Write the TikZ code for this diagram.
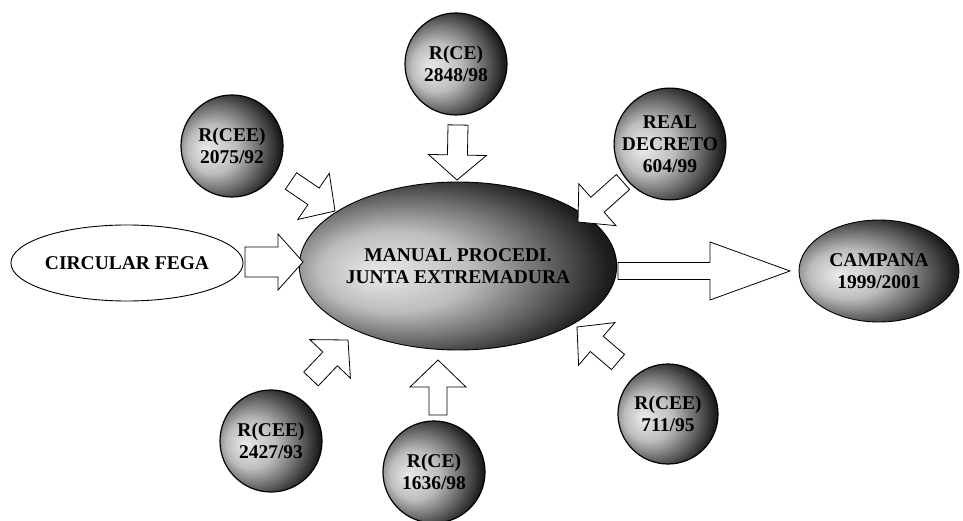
\documentclass[tikz,border=0pt]{standalone}
\usepackage{fontspec}
\setmainfont{Liberation Serif}
\usepackage{tikz}
\usetikzlibrary{calc,positioning,shapes.geometric}

\pgfdeclareradialshading{Globe}{\pgfpoint{-13bp}{-2bp}}{%
	color(0bp)=(black!8); color(12bp)=(black!26); color(21bp)=(black!58);
	color(29bp)=(black!88); color(35bp)=(black); color(50bp)=(black)}

\newcommand{\blockarrow}[5]{%
	\coordinate (BaTail) at #1;
	\coordinate (BaTip)  at #2;
	\coordinate (BaBase) at ($(BaTip)!#5!(BaTail)$);
	\draw[arrowbody] ($(BaTail)!#3!90:(BaTip)$) -- ($(BaBase)!#3!-90:(BaTail)$) -- ($(BaBase)!#4!-90:(BaTail)$)
		-- (BaTip) -- ($(BaBase)!#4!90:(BaTail)$) -- ($(BaBase)!#3!90:(BaTail)$) -- ($(BaTail)!#3!-90:(BaTip)$) -- cycle;}

\begin{document}
\begin{tikzpicture}[x=1pt,y=-1pt,font=\fontsize{19.5}{22}\selectfont\bfseries,
		globe/.style={circle,draw,line width=1.2pt,shading=Globe,minimum size=102pt,inner sep=0pt,align=center},
		oval/.style={ellipse,draw,line width=.9pt,inner sep=0pt,align=center},
		arrowbody/.style={draw,fill=white,line width=.8pt,line join=miter}]
	\useasboundingbox (0,0) rectangle (963,521);

	\node[oval,shading=Globe,minimum width=260pt,minimum height=168pt] (Manual)   at (458,266) {MANUAL PROCEDI.\\JUNTA EXTREMADURA};
	\node[oval,fill=white,minimum width=206pt,minimum height=76pt]     (Circular) at (127,263) {CIRCULAR FEGA};
	\node[oval,shading=Globe,minimum width=160pt,minimum height=102pt] (Campana)  at (879,271) {CAMPANA\\1999/2001};

	\node[globe] (R2848) at (456,64)  {R(CE)\\2848/98};
	\node[globe] (R2075) at (232,146) {R(CEE)\\2075/92};
	\node[globe] (RD604) at (670,144) {REAL\\DECRETO\\604/99};
	\node[globe] (R2427) at (271,441) {R(CEE)\\2427/93};
	\node[globe] (R1636) at (434,472) {R(CE)\\1636/98};
	\node[globe,minimum size=100pt] (R711) at (668,414) {R(CEE)\\711/95};

	\blockarrow{(458,125)}{(457,180)}{10pt}{29pt}{25pt}
	\blockarrow{(291,181)}{(335,211)}{10pt}{28pt}{26pt}
	\blockarrow{(623,182)}{(578,222)}{10pt}{28pt}{26pt}
	\blockarrow{(311,379)}{(348,340)}{10pt}{28pt}{26pt}
	\blockarrow{(438,415)}{(438,360)}{9pt}{28pt}{27pt}
	\blockarrow{(618,362)}{(577,327)}{10pt}{28pt}{26pt}
	\blockarrow{(245,262)}{(303,262)}{15pt}{28pt}{25pt}
	\blockarrow{(618,271)}{(790,271)}{8.5pt}{29pt}{80pt}
\end{tikzpicture}
\end{document}
